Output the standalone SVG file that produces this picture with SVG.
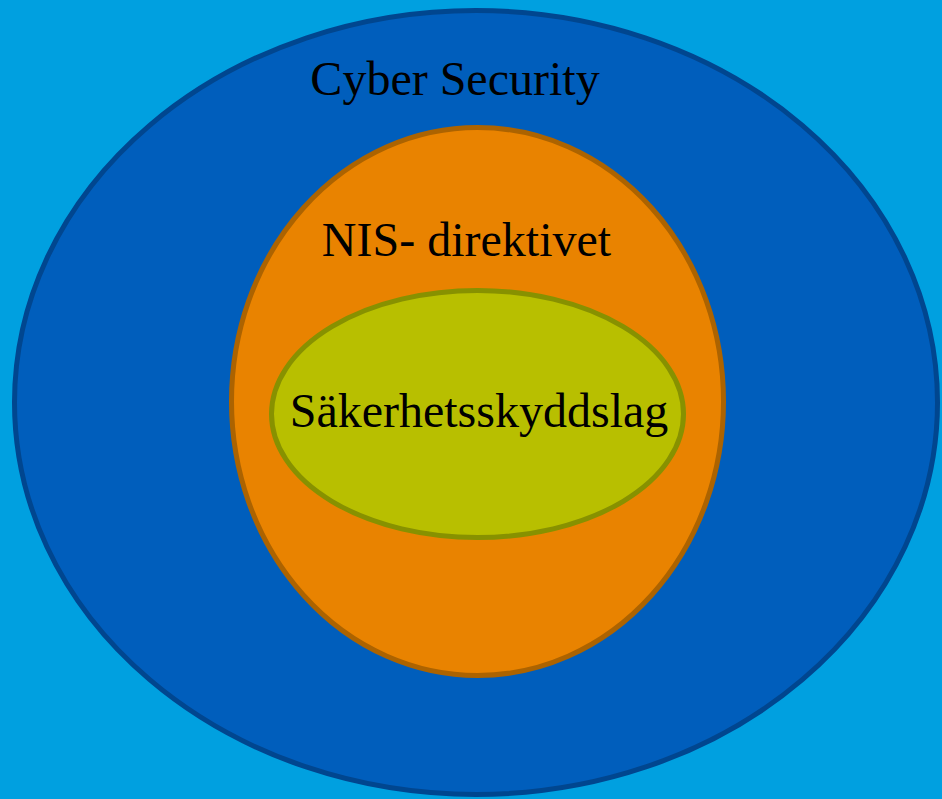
<svg xmlns="http://www.w3.org/2000/svg" width="942" height="799" viewBox="0 0 942 799">
<style>
.lbl{font-family:"Liberation Serif","Times New Roman",serif;font-size:48px;fill:#000;text-anchor:middle}
</style>
<rect x="0" y="0" width="942" height="799" fill="#00A0E0"/>
<g id="cyber-security">
<ellipse cx="476" cy="402.5" rx="461.5" ry="392" fill="#005EBC" stroke="#00468F" stroke-width="5"/>
<text class="lbl" x="455" y="95">Cyber Security</text>
</g>
<g id="nis-direktivet">
<ellipse cx="477.5" cy="401.5" rx="246" ry="274" fill="#E98300" stroke="#AC6300" stroke-width="5"/>
<text class="lbl" x="466.5" y="256">NIS- direktivet</text>
</g>
<g id="sakerhetsskyddslag">
<ellipse cx="477.5" cy="414" rx="206" ry="123.5" fill="#B8BF00" stroke="#879100" stroke-width="5"/>
<text class="lbl" x="479" y="427">Säkerhetsskyddslag</text>
</g>
<g id="connectors"/>
</svg>
